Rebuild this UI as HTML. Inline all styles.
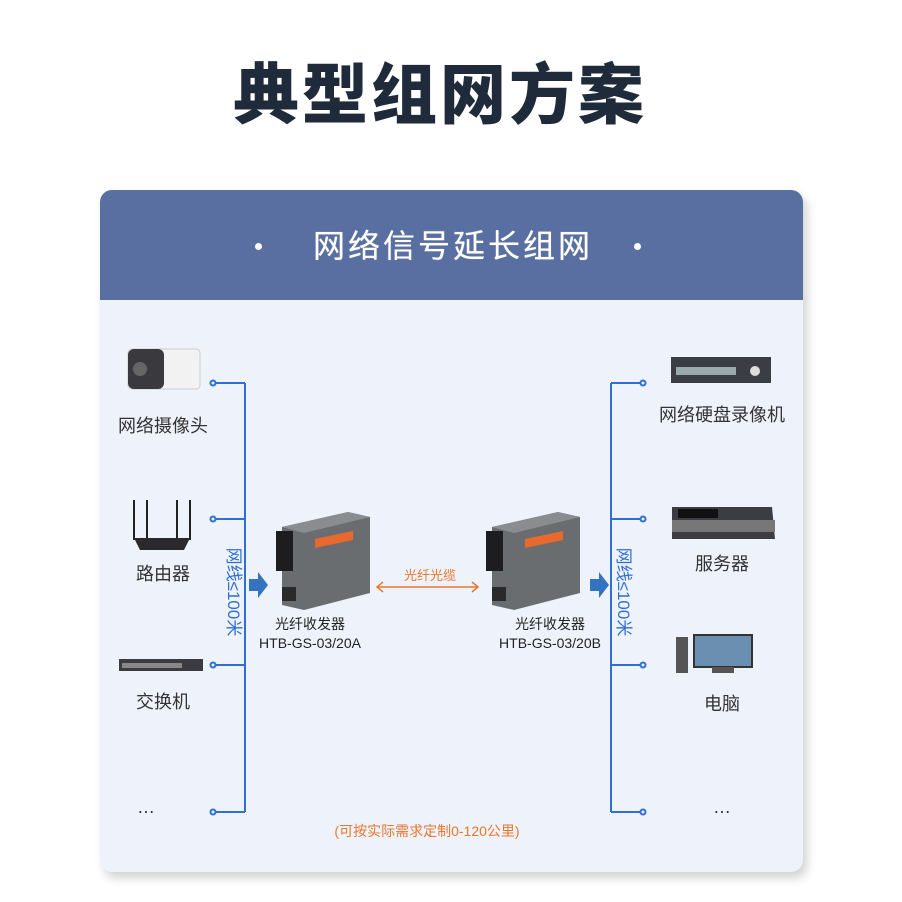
<!DOCTYPE html>
<html><head><meta charset="utf-8"><style>
body{margin:0;width:902px;height:902px;background:#fff;position:relative;overflow:hidden;font-family:"Liberation Sans","Noto Sans CJK SC",sans-serif}
.a{position:absolute}
.t{white-space:nowrap;text-align:center}
</style></head><body>
<div class="a t" style="left:0;width:880px;top:52px;font-size:66px;font-weight:900;color:#1f2a3a;line-height:86px;letter-spacing:3px">典型组网方案</div>
<div class="a" style="left:100px;top:190px;width:703px;height:682px;border-radius:12px;background:#eef2fb;box-shadow:4px 6px 10px rgba(0,0,0,0.18);overflow:hidden">
 <div class="a" style="left:0;top:0;width:703px;height:110px;background:#5a6fa1"></div>
</div>
<div class="a t" style="left:0;width:906px;top:222px;font-size:32px;color:#fff;line-height:48px;letter-spacing:3px;text-shadow:0 0 0.6px #fff">网络信号延长组网</div>
<div class="a" style="left:255px;top:243px;width:7px;height:7px;border-radius:50%;background:#fff"></div>
<div class="a" style="left:634px;top:243px;width:7px;height:7px;border-radius:50%;background:#fff"></div>
<svg class="a" style="left:0;top:0" width="902" height="902">
<g stroke="#2f6fd6" stroke-width="2" fill="#eef2fb">
<line x1="245" y1="383" x2="245" y2="812"/>
<line x1="215" y1="383" x2="245" y2="383"/><line x1="215" y1="519" x2="245" y2="519"/><line x1="215" y1="665" x2="245" y2="665"/><line x1="215" y1="812" x2="245" y2="812"/>
<circle cx="213" cy="383" r="2.5"/><circle cx="213" cy="519" r="2.5"/><circle cx="213" cy="665" r="2.5"/><circle cx="213" cy="812" r="2.5"/>
<line x1="611" y1="383" x2="611" y2="812"/>
<line x1="611" y1="383" x2="641" y2="383"/><line x1="611" y1="519" x2="641" y2="519"/><line x1="611" y1="665" x2="641" y2="665"/><line x1="611" y1="812" x2="641" y2="812"/>
<circle cx="643" cy="383" r="2.5"/><circle cx="643" cy="519" r="2.5"/><circle cx="643" cy="665" r="2.5"/><circle cx="643" cy="812" r="2.5"/>
</g>
<path d="M249 579h9v-7l10 13-10 13v-7h-9z" fill="#3373c0"/>
<path d="M590 579h9v-7l10 13-10 13v-7h-9z" fill="#3373c0"/>
<g stroke="#e8772e" stroke-width="1.5" fill="none"><line x1="377" y1="587" x2="478" y2="587"/><path d="M383 582l-6 5 6 5M472 582l6 5-6 5"/></g>
<rect x="128" y="349" width="72" height="40" rx="4" fill="#f2f2f2" stroke="#ccc"/>
<rect x="128" y="349" width="36" height="40" rx="6" fill="#3a3a3e"/><circle cx="140" cy="369" r="7" fill="#666"/>
<g stroke="#222" stroke-width="2"><line x1="134" y1="500" x2="134" y2="540"/><line x1="147" y1="500" x2="147" y2="540"/><line x1="177" y1="500" x2="177" y2="540"/><line x1="190" y1="500" x2="190" y2="540"/></g>
<path d="M134 538h56l-6 12h-44z" fill="#2a2a2e"/>
<rect x="119" y="659" width="84" height="12" fill="#3b3c42"/><rect x="122" y="663" width="60" height="5" fill="#888"/>
<g id="tr">
<path d="M282 527l66-15 22 5v76l-66 17-22-5z" fill="#6a6d70"/><path d="M282 527l66-15 22 5-66 16z" fill="#8a8d90"/>
<rect x="276" y="531" width="17" height="40" fill="#1d1d1f"/><rect x="315" y="536" width="38" height="9" fill="#e8682e" transform="skewY(-12) translate(0 70)"/>
<rect x="282" y="587" width="14" height="14" fill="#2a2a2a"/>
</g>
<use href="#tr" x="210"/>
<rect x="671" y="357" width="100" height="26" fill="#3a3d44"/><rect x="676" y="367" width="60" height="8" fill="#9aa"/><circle cx="755" cy="371" r="5" fill="#ddd"/>
<path d="M672 507h100l3 32h-103z" fill="#3b3d42"/><rect x="672" y="520" width="103" height="12" fill="#777"/><rect x="678" y="509" width="40" height="9" fill="#111"/>
<rect x="676" y="637" width="12" height="36" fill="#555"/><rect x="694" y="635" width="58" height="32" fill="#6a8fb0" stroke="#333" stroke-width="2"/><rect x="712" y="667" width="22" height="6" fill="#555"/>
</svg>
<div class="a t" style="left:173px;top:582px;width:120px;font-size:17px;color:#2f6fd6;line-height:20px;transform:rotate(90deg)">网线≤100米</div>
<div class="a t" style="left:563px;top:582px;width:120px;font-size:17px;color:#2f6fd6;line-height:20px;transform:rotate(90deg)">网线≤100米</div>
<div class="a t" style="left:110px;width:106px;top:414px;font-size:18px;color:#333;line-height:24px">网络摄像头</div>
<div class="a t" style="left:110px;width:106px;top:562px;font-size:18px;color:#333;line-height:24px">路由器</div>
<div class="a t" style="left:110px;width:106px;top:690px;font-size:18px;color:#333;line-height:24px">交换机</div>
<div class="a t" style="left:110px;width:72px;top:795px;font-size:18px;color:#333;line-height:24px">…</div>
<div class="a t" style="left:650px;width:144px;top:403px;font-size:18px;color:#333;line-height:24px">网络硬盘录像机</div>
<div class="a t" style="left:650px;width:144px;top:552px;font-size:18px;color:#333;line-height:24px">服务器</div>
<div class="a t" style="left:650px;width:144px;top:692px;font-size:18px;color:#333;line-height:24px">电脑</div>
<div class="a t" style="left:650px;width:144px;top:795px;font-size:18px;color:#333;line-height:24px">…</div>
<div class="a t" style="left:250px;width:120px;top:615px;font-size:14px;color:#222;line-height:19px">光纤收发器<br>HTB-GS-03/20A</div>
<div class="a t" style="left:490px;width:120px;top:615px;font-size:14px;color:#222;line-height:19px">光纤收发器<br>HTB-GS-03/20B</div>
<div class="a t" style="left:380px;width:100px;top:567px;font-size:13px;color:#e8772e;line-height:18px">光纤光缆</div>
<div class="a t" style="left:280px;width:294px;top:821px;font-size:14px;color:#e8772e;line-height:20px">(可按实际需求定制0-120公里)</div>
</body></html>
